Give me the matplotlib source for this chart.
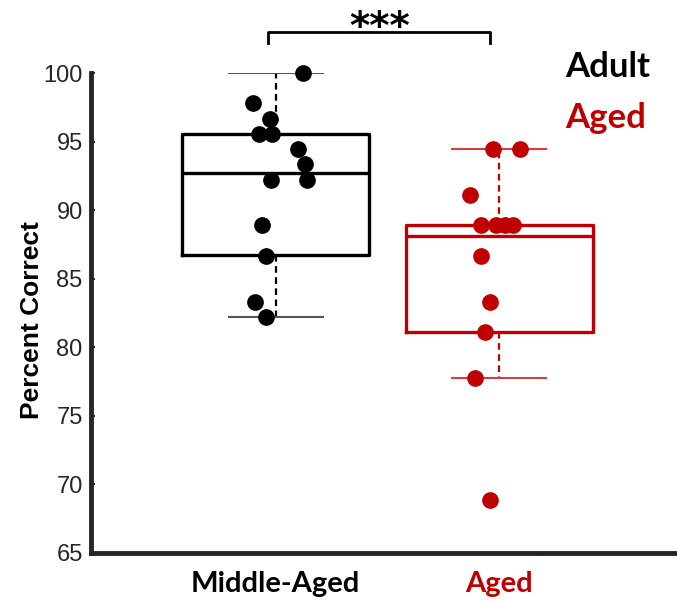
import matplotlib
matplotlib.use("Agg")
import matplotlib.pyplot as plt

# percent correct per animal
middle_aged = [100.0, 97.78, 96.67, 95.56, 95.56, 94.44, 93.33, 92.22, 92.22,
               88.89, 86.67, 83.33, 82.22]
aged = [94.44, 94.44, 91.11, 88.89, 88.89, 88.89, 88.89, 86.67, 83.33,
        81.11, 77.78, 68.89]

# horizontal jitter used for the scatter overlay
middle_jitter = [0.123, -0.101, -0.025, -0.074, -0.016, 0.101, 0.132, -0.020,
                 0.141, -0.060, -0.043, -0.092, -0.043]
aged_jitter = [-0.027, 0.094, -0.130, -0.081, -0.013, 0.027, 0.063, -0.081,
               -0.040, -0.063, -0.107, -0.040]

# box summaries (whisker low, q1, median, q3, whisker high)
middle_box = [82.22, 86.70, 92.70, 95.56, 100.0]
aged_box = [77.78, 81.11, 88.15, 88.89, 94.44]

groups = ["Middle-Aged", "Aged"]
colors = ["black", "#C00000"]
yticks = [65, 70, 75, 80, 85, 90, 95, 100]

W, H = 677, 601
fig = plt.figure(figsize=(W / 100, H / 100), dpi=100)
ax = fig.add_axes([0.1344, 0.0799, 0.8656, 0.7986])

for pos, box, col in zip([1, 2], [middle_box, aged_box], colors):
    stats = [dict(whislo=box[0], q1=box[1], med=box[2], q3=box[3],
                  whishi=box[4], fliers=[])]
    ax.bxp(stats, positions=[pos], widths=0.837, capwidths=0.42,
           showfliers=False,
           boxprops=dict(color=col, linewidth=2.4),
           medianprops=dict(color=col, linewidth=2.4),
           whiskerprops=dict(color=col, linewidth=1.6, linestyle=(0, (3, 2))),
           capprops=dict(color="#555555" if col == "black" else "#D24040",
                         linewidth=1.5))

for pos, vals, jit, col in zip([1, 2], [middle_aged, aged],
                               [middle_jitter, aged_jitter], colors):
    xs = [pos + j for j in jit]
    ax.plot(xs, vals, "o", color=col, markersize=11, zorder=5,
            clip_on=False)

ax.set_xlim(0.174, 2.796)
ax.set_ylim(65, 100)
ax.set_yticks(yticks)
ax.set_yticklabels([str(t) for t in yticks], fontsize=17,
                   family=["Liberation Sans", "DejaVu Sans"], color="#262626")
ax.tick_params(axis="y", direction="in", length=3, width=1.5, pad=6,
               color="#262626")
ax.set_xticks([1, 2])
ax.set_xticklabels(groups, fontsize=21, fontweight="bold",
                   family=["Lato", "DejaVu Sans"])
ax.tick_params(axis="x", length=0, pad=13)
for lbl, col in zip(ax.get_xticklabels(), colors):
    lbl.set_color(col)

fig.text(32 / W, 1 - 320 / H, "Percent Correct", rotation=90,
         ha="center", va="center", fontsize=19, fontweight="bold",
         family=["Liberation Sans", "DejaVu Sans"])

for side in ["top", "right"]:
    ax.spines[side].set_visible(False)
for side in ["left", "bottom"]:
    ax.spines[side].set_linewidth(3.5)
    ax.spines[side].set_color("#262626")

# significance bracket
ax.plot([0.966, 0.966, 1.96, 1.96], [102.2, 103.0, 103.0, 102.2],
        color="black", linewidth=2, clip_on=False)
fig.text(380 / W, 1 - 39 / H, "***", ha="center", va="baseline",
         fontsize=28, fontweight="bold", family=["DejaVu Sans"])

fig.text(565 / W, 1 - 77 / H, "Adult", ha="left", va="baseline",
         fontsize=25, fontweight="bold", family=["Lato", "DejaVu Sans"],
         color="black")
fig.text(565 / W, 1 - 128 / H, "Aged", ha="left", va="baseline",
         fontsize=25, fontweight="bold", family=["Lato", "DejaVu Sans"],
         color="#C00000")

fig.savefig("out.png", dpi=100)
